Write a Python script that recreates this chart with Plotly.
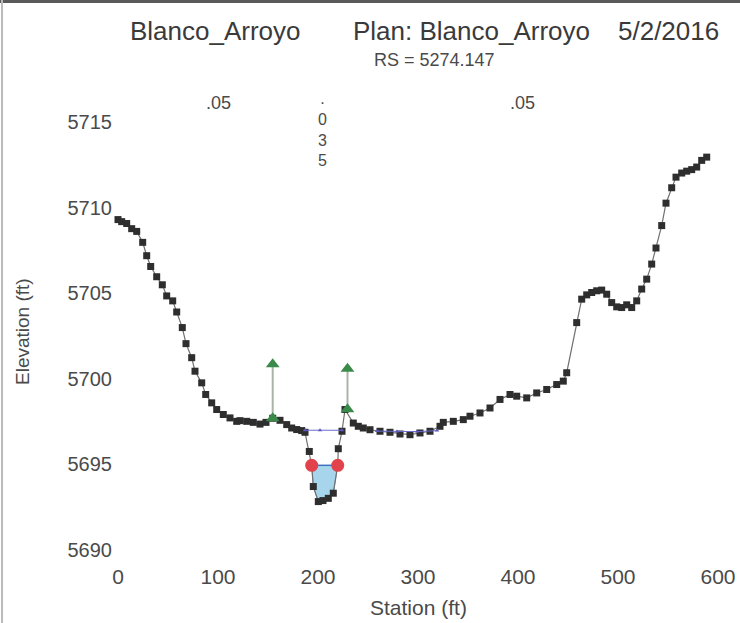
import plotly.graph_objects as go

# ---------------- data ----------------
station = [0, 3.7, 8.7, 13.7, 18.7, 24.7, 28.7, 32.7, 38.7, 44.3, 48.7, 54.7, 58.7, 64.3, 68,
           73.7, 77, 83.7, 87.7, 93.7, 98.7, 105.3, 112, 118.7, 122, 128.7, 135.3, 142, 148,
           154.7, 162, 168.7, 173.7, 178.7, 183.7, 187, 191.3, 193.7, 195.3, 200.3, 205, 210.3,
           215.3, 219.7, 220.3, 224, 227, 235.3, 240.3, 245.3, 252, 262, 272, 282, 292, 302,
           312, 322, 325.3, 335.3, 345.3, 352, 362, 372, 382, 392, 398.7, 408.7, 418.7, 428.7,
           438.7, 445.3, 448.7, 458.7, 463.7, 468.7, 473.7, 478.7, 483.7, 488.7, 493.7, 498.7,
           503.7, 508.7, 513.7, 518.7, 523.7, 528.7, 533.7, 538, 543.7, 548, 553.7, 558, 563.7,
           568.7, 573.7, 578.7, 583.7, 588.7]
elevation = [5709.31, 5709.19, 5709.08, 5708.78, 5708.62, 5707.98, 5707.20, 5706.57, 5705.97,
             5705.50, 5704.85, 5704.56, 5703.91, 5703.00, 5702.06, 5701.24, 5700.45, 5699.77,
             5699.09, 5698.60, 5698.21, 5697.92, 5697.72, 5697.52, 5697.56, 5697.52, 5697.46,
             5697.36, 5697.46, 5697.70, 5697.58, 5697.33, 5697.13, 5697.04, 5696.98, 5696.88,
             5695.76, 5694.94, 5693.71, 5692.83, 5692.89, 5693.02, 5693.32, 5694.94, 5695.92,
             5696.94, 5698.21, 5697.42, 5697.23, 5697.13, 5697.03, 5696.94, 5696.88, 5696.78,
             5696.74, 5696.84, 5696.94, 5697.23, 5697.46, 5697.52, 5697.62, 5697.82, 5698.01,
             5698.30, 5698.80, 5699.09, 5698.99, 5698.89, 5699.18, 5699.38, 5699.67, 5699.87,
             5700.36, 5703.29, 5704.66, 5704.91, 5705.05, 5705.15, 5705.19, 5704.95, 5704.46,
             5704.21, 5704.17, 5704.33, 5704.17, 5704.56, 5705.25, 5705.83, 5706.71, 5707.65,
             5708.96, 5710.27, 5711.17, 5711.79, 5712.03, 5712.14, 5712.23, 5712.38, 5712.77,
             5712.96]

# water in main channel (bank to bank)
water_station = [193.7, 195.3, 200.3, 205, 210.3, 215.3, 219.7]
water_elev = [5694.95, 5693.71, 5692.83, 5692.89, 5693.02, 5693.32, 5694.95]
ws_elev = 5694.95

bank_station = [193.7, 219.7]

# ineffective flow markers
ineff_station = [154.7, 229.5]
ineff_base = [5697.70, 5698.22]
ineff_top = [5700.85, 5700.60]

# thin WS lines
ws1_station = [187, 202, 224]
ws1_elev = [5697.0, 5697.0, 5697.0]
ws2_station = [259, 279, 299, 319]
ws2_elev = [5696.95, 5696.92, 5696.92, 5696.98]

# Manning's n labels
n_station = [100, 404]
n_labels = [".05", ".05"]
n_mid_station = 204
n_mid_label = ".<br>0<br>3<br>5"

x_ticks = [0, 100, 200, 300, 400, 500, 600]
y_ticks = [5690, 5695, 5700, 5705, 5710, 5715]

FONT = "Liberation Sans, Arial, sans-serif"
GRAY = "#4a4a4a"

fig = go.Figure()

# water fill
fig.add_trace(go.Scatter(x=water_station, y=water_elev, fill="toself", mode="lines",
                         fillcolor="#a7d6ec", line=dict(color="#7aa9c4", width=1),
                         hoverinfo="skip", showlegend=False))
# WS line between banks
fig.add_trace(go.Scatter(x=bank_station, y=[ws_elev, ws_elev], mode="lines",
                         line=dict(color="#3f6fc0", width=1.5), showlegend=False))

# ground
fig.add_trace(go.Scatter(x=station, y=elevation, mode="lines+markers",
                         line=dict(color="#707070", width=1.2),
                         marker=dict(symbol="square", size=7, color="#2e2e2e"),
                         showlegend=False, cliponaxis=False))

# ineffective flow lines
for s, b, t in zip(ineff_station, ineff_base, ineff_top):
    fig.add_trace(go.Scatter(x=[s, s], y=[b, t], mode="lines+markers",
                             line=dict(color="#a8b4a8", width=2),
                             marker=dict(symbol="triangle-up", size=12, color="#3a8a4a"),
                             showlegend=False, cliponaxis=False))

# thin WS lines with small markers
for xs, ys in [(ws1_station, ws1_elev), (ws2_station, ws2_elev)]:
    fig.add_trace(go.Scatter(x=xs, y=ys, mode="lines+markers",
                             line=dict(color="#6a6ad0", width=1),
                             marker=dict(symbol="triangle-up", size=4, color="#5a5ac0"),
                             showlegend=False))

# bank stations
fig.add_trace(go.Scatter(x=bank_station, y=[ws_elev, ws_elev], mode="markers",
                         marker=dict(symbol="circle", size=13, color="#e2424c"),
                         showlegend=False))

W, H = 740, 623
L, R, T, B = 113, 7, 88, 61
pw, ph = W - L - R, H - T - B


def px(xp):
    return (xp - L) / pw


def py(yp):
    return (H - B - yp) / ph


def ann(x, y, text, size, color=GRAY, **kw):
    d = dict(x=x, y=y, text=text, showarrow=False, xanchor="center", yanchor="middle",
             font=dict(family=FONT, size=size, color=color))
    d.update(kw)
    return d


annotations = []
for s, lab in zip(n_station, n_labels):
    annotations.append(ann(s, py(103), lab, 18, xref="x", yref="paper"))
annotations.append(ann(n_mid_station, py(88), n_mid_label, 16, xref="x", yref="paper",
                       yanchor="top"))

annotations += [
    ann(px(215), py(31), "Blanco_Arroyo", 26, "#3a3a3a", xref="paper", yref="paper"),
    ann(px(472), py(31), "Plan: Blanco_Arroyo", 26, "#3a3a3a", xref="paper", yref="paper"),
    ann(px(668), py(31), "5/2/2016", 26, "#3a3a3a", xref="paper", yref="paper"),
    ann(px(434), py(60), "RS = 5274.147", 18, xref="paper", yref="paper"),
    ann(px(22), py(332), "Elevation (ft)", 19, xref="paper", yref="paper", textangle=-90),
    ann(px(418), py(607), "Station (ft)", 21, xref="paper", yref="paper"),
]

shapes = [
    dict(type="rect", xref="paper", yref="paper", x0=px(0), x1=px(740), y0=py(3), y1=py(0),
         line=dict(width=0), fillcolor="#5a5a5a", layer="above"),
    dict(type="line", xref="paper", yref="paper", x0=px(2), x1=px(2), y0=py(0), y1=py(623),
         line=dict(color="#bbbbbb", width=2), layer="above"),
]

fig.update_layout(
    width=W, height=H,
    margin=dict(l=L, r=R, t=T, b=B, autoexpand=False),
    paper_bgcolor="white", plot_bgcolor="white",
    xaxis=dict(range=[-5, 615], tickvals=x_ticks, showgrid=False, zeroline=False,
               showline=False, ticks="", tickfont=dict(family=FONT, size=21, color=GRAY)),
    yaxis=dict(range=[5689.3, 5717], tickvals=y_ticks, showgrid=False, zeroline=False,
               showline=False, ticks="", tickfont=dict(family=FONT, size=20, color=GRAY)),
    annotations=annotations,
    shapes=shapes,
)

fig.write_html("out.html", config={"displayModeBar": False},
               post_script="document.body.style.margin='0';document.body.style.overflow='hidden';")
